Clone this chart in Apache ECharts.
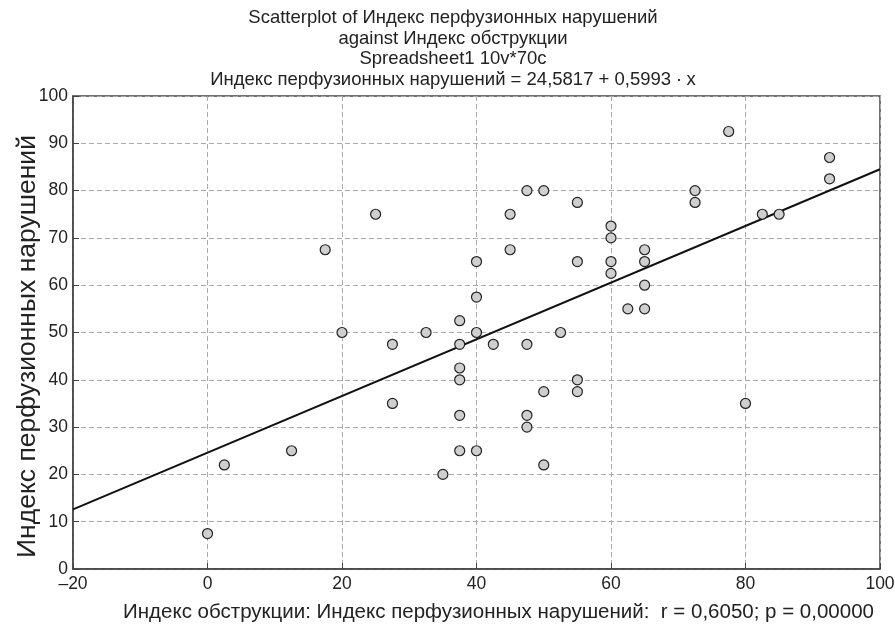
<!DOCTYPE html>
<html lang="ru">
<head>
    <meta charset="UTF-8">
    <title>Scatterplot</title>
    <script src="https://cdn.jsdelivr.net/npm/echarts@6/dist/echarts.min.js"></script>
    <style>
        html, body { margin: 0; padding: 0; background: #fff; }
        #main { width: 895px; height: 630px; }
    </style>
</head>
<body>
<div id="main"></div>
<script>
    // Индекс обструкции (x) и Индекс перфузионных нарушений (y)
    var obstrX = [0, 2.5, 12.5, 17.5, 20, 25, 27.5, 27.5, 32.5, 35,
        37.5, 37.5, 37.5, 37.5, 37.5, 37.5, 40, 40, 40, 40,
        42.5, 45, 45, 47.5, 47.5, 47.5, 47.5, 50, 50, 50,
        52.5, 55, 55, 55, 55, 60, 60, 60, 60, 62.5,
        65, 65, 65, 65, 72.5, 72.5, 77.5, 80, 82.5, 85,
        92.5, 92.5];
    var perfY = [7.5, 22, 25, 67.5, 50, 75, 47.5, 35, 50, 20,
        52.5, 47.5, 42.5, 40, 32.5, 25, 65, 57.5, 50, 25,
        47.5, 75, 67.5, 80, 47.5, 32.5, 30, 80, 37.5, 22,
        50, 77.5, 65, 40, 37.5, 72.5, 70, 65, 62.5, 55,
        67.5, 65, 60, 55, 80, 77.5, 92.5, 35, 75, 75,
        87, 82.5];
    // коэффициенты регрессии из заголовка
    var intercept = 24.5817;
    var slope = 0.5993;
    var xRange = [-20, 100];

    var points = [];
    for (var i = 0; i < obstrX.length; i++) {
        points.push([obstrX[i], perfY[i]]);
    }
    var fitLine = [
        [xRange[0], intercept + slope * xRange[0]],
        [xRange[1], intercept + slope * xRange[1]]
    ];

    var font = '"Liberation Sans", Arial, sans-serif';
    var myChart = echarts.init(document.getElementById('main'));
    var option = {
        animation: false,
        textStyle: { fontFamily: font },
        title: {
            text: 'Scatterplot of Индекс перфузионных нарушений\nagainst Индекс обструкции\nSpreadsheet1 10v*70c\nИндекс перфузионных нарушений = 24,5817 + 0,5993 \u2219 x',
            left: 448,
            textAlign: 'center',
            top: 3,
            textStyle: {
                fontFamily: font,
                fontSize: 18.5,
                fontWeight: 'normal',
                color: '#222',
                lineHeight: 20.5
            }
        },
        grid: {
            left: 73,
            right: 15,
            top: 96,
            bottom: 61,
            outerBoundsMode: 'none',
            show: true,
            borderColor: '#444',
            borderWidth: 1.5
        },
        xAxis: {
            type: 'value',
            min: xRange[0],
            max: xRange[1],
            interval: 20,
            name: 'Индекс обструкции: Индекс перфузионных нарушений:  r = 0,6050; p = 0,00000',
            nameLocation: 'middle',
            nameGap: 33,
            nameMoveOverlap: false,
            nameTextStyle: { fontSize: 20.5, color: '#222', fontFamily: font, padding: [0, 0, 0, 44] },
            axisLine: { show: true, onZero: false, lineStyle: { color: '#444', width: 1.5 } },
            axisTick: { show: true, inside: true, length: 6, lineStyle: { color: '#444' } },
            axisLabel: {
                fontSize: 17.5, color: '#222', margin: 6,
                formatter: function (v) { return v < 0 ? '\u2013' + Math.abs(v) : String(v); }
            },
            splitLine: { show: true, lineStyle: { color: '#aaa', type: [5, 3], width: 1 } }
        },
        yAxis: {
            type: 'value',
            min: 0,
            max: 100,
            interval: 10,
            name: 'Индекс перфузионных нарушений',
            nameLocation: 'middle',
            nameGap: 32,
            nameMoveOverlap: false,
            nameTextStyle: { fontSize: 26.5, color: '#222', fontFamily: font, padding: [0, 28, 0, 0] },
            axisLine: { show: true, onZero: false, lineStyle: { color: '#444', width: 1.5 } },
            axisTick: { show: true, inside: true, length: 6, lineStyle: { color: '#444' } },
            axisLabel: { fontSize: 17.5, color: '#222', margin: 5 },
            splitLine: { show: true, lineStyle: { color: '#aaa', type: [5, 3], width: 1 } }
        },
        series: [
            {
                type: 'line',
                data: fitLine,
                symbol: 'none',
                lineStyle: { color: '#111', width: 2 },
                z: 2
            },
            {
                type: 'scatter',
                data: points,
                symbol: 'circle',
                symbolSize: 10,
                itemStyle: { color: '#cfcfcf', borderColor: '#222', borderWidth: 1.2, opacity: 1 },
                z: 3
            }
        ]
    };
    myChart.setOption(option);
</script>
</body>
</html>
